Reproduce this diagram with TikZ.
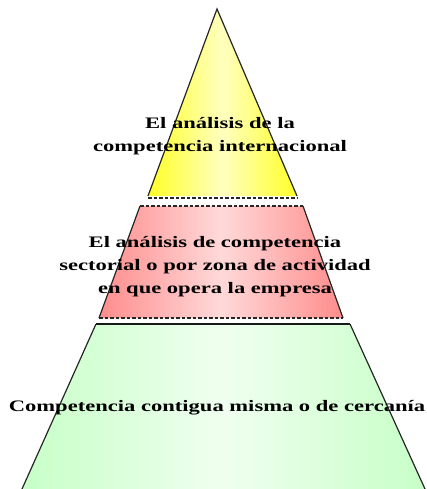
\documentclass[tikz,border=0pt]{standalone}
\usepackage{fontspec}
\setmainfont{Liberation Serif}
\begin{document}
\begin{tikzpicture}[x=1pt,y=-1pt,
  edge/.style={line width=1.2pt,black!85},
  dashedge/.style={line width=1.6pt,black!85,dash pattern=on 3.5pt off 2pt},
  lbl/.style={inner sep=0pt,align=center,text=black,font=\bfseries\fontsize{16}{23}\selectfont}]
\useasboundingbox[fill=white] (0,0) rectangle (427,489);
% yellow tier
\shade[left color=yellow!85!white,right color=yellow!85!white,middle color=yellow!25!white]
  (217,9) -- (297,196) -- (148,196) -- cycle;
\draw[edge] (148,196) -- (217,9) -- (297,196);
\draw[dashedge] (148,198) -- (297,198);
% red tier
\shade[left color=red!45!white,right color=red!45!white,middle color=red!15!white]
  (140,206) -- (303,206) -- (343,318) -- (99,318) -- cycle;
\draw[dashedge] (140,206) -- (303,206);
\draw[edge] (140,206) -- (99,318);
\draw[edge] (303,206) -- (343,318);
\draw[dashedge] (99,318) -- (343,318);
% green tier
\shade[left color=green!22!white,right color=green!22!white,middle color=green!6!white]
  (96,324) -- (350,324) -- (425,489) -- (22,489) -- cycle;
\draw[line width=1.6pt,black!90] (96,324) -- (350,324);
\draw[edge] (96,324) -- (22,489);
\draw[edge] (350,324) -- (425,489);
% labels
\node[lbl] (top) at (220,135) {\scalebox{1.41}[1]{\begin{tabular}{@{}c@{}}El análisis de la\\competencia internacional\end{tabular}}};
\node[lbl] (mid) at (215,266) {\scalebox{1.41}[1]{\begin{tabular}{@{}c@{}}El análisis de competencia\\sectorial o por zona de actividad\\en que opera la empresa\end{tabular}}};
\node[lbl] (bot) at (217,408) {\scalebox{1.41}[1]{Competencia contigua misma o de cercanía}};
\end{tikzpicture}
\end{document}
